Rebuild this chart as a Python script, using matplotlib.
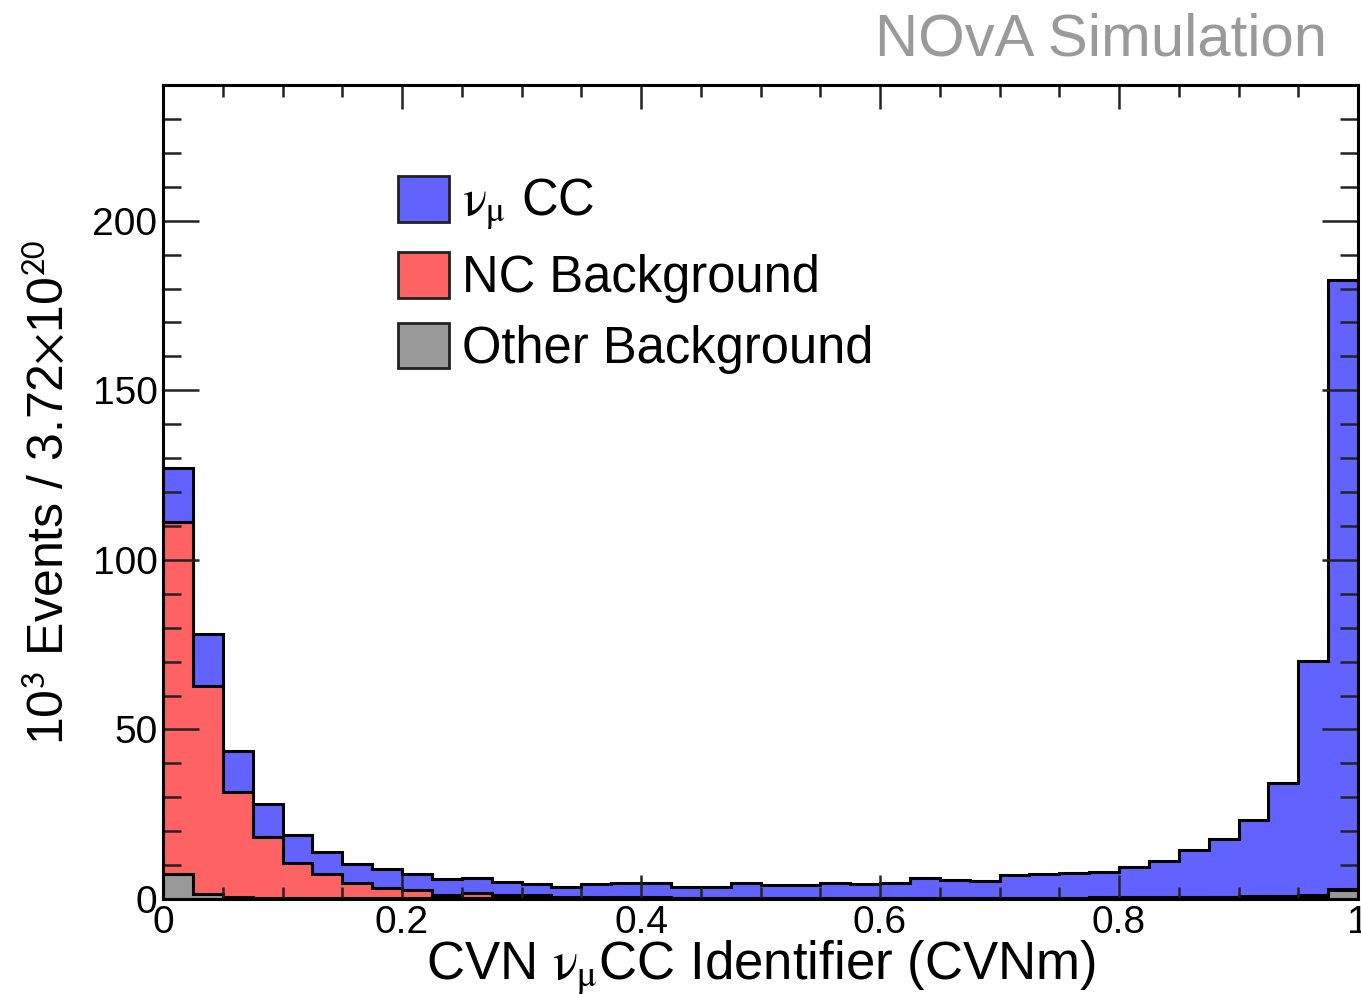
import numpy as np
import matplotlib
matplotlib.use("Agg")
import matplotlib.pyplot as plt
from matplotlib.patches import Patch
from matplotlib.ticker import MultipleLocator, FormatStrFormatter

plt.rcParams['font.family'] = ['Liberation Sans', 'DejaVu Sans']
plt.rcParams['mathtext.fontset'] = 'stix'

# CVN numu CC score, 40 bins between 0 and 1 (10^3 events per bin)
edges = np.linspace(0, 1, 41)

other_bkg = [7.3, 1.4, 0.6, 0.4, 0.3, 0.3, 0.2, 0.2, 0.2, 0.2,
             0.2, 0.2, 0.2, 0.2, 0.2, 0.2, 0.2, 0.2, 0.2, 0.2,
             0.2, 0.2, 0.2, 0.2, 0.2, 0.2, 0.2, 0.2, 0.2, 0.2,
             0.2, 0.3, 0.3, 0.3, 0.4, 0.5, 0.6, 0.8, 1.0, 2.8]
nc_bkg = [104.0, 61.5, 31.0, 17.9, 10.4, 7.0, 4.6, 3.1, 2.4, 1.0,
          1.7, 1.0, 1.0, 0.4, 0.3, 0.3, 0.3, 0.2, 0.2, 0.2,
          0.2, 0.2, 0.2, 0.2, 0.2, 0.2, 0.2, 0.2, 0.2, 0.2,
          0.2, 0.2, 0.2, 0.2, 0.2, 0.2, 0.2, 0.2, 0.3, 0.1]
numu_cc = [15.9, 15.3, 12.0, 9.8, 8.1, 6.5, 5.6, 5.6, 4.8, 4.8,
           4.4, 3.9, 3.3, 3.0, 3.8, 4.2, 4.2, 3.2, 3.2, 4.2,
           3.8, 3.6, 4.3, 3.9, 4.2, 5.8, 5.1, 4.9, 6.6, 6.9,
           7.3, 7.6, 9.0, 10.8, 13.8, 16.9, 22.5, 33.1, 68.9, 179.7]

labels = [r'$\mathrm{\nu_{\mu}}$ CC', 'NC Background', 'Other Background']
colors = ['#6262ff', '#ff6262', '#999999']

other_bkg = np.array(other_bkg)
nc_bkg = np.array(nc_bkg)
numu_cc = np.array(numu_cc)
stacks = [other_bkg + nc_bkg + numu_cc, other_bkg + nc_bkg, other_bkg]

fig = plt.figure(figsize=(13.61, 9.94), dpi=100)
ax = fig.add_axes([163/1361, 1 - 899/994, 1195/1361, 814/994])

for vals, col in zip(stacks, colors):
    ax.stairs(vals, edges, fill=True, facecolor=col, edgecolor='black',
              linewidth=2.2, baseline=0)

ax.set_xlim(0, 1)
ax.set_ylim(0, 240)

ax.xaxis.set_major_locator(MultipleLocator(0.2))
ax.xaxis.set_minor_locator(MultipleLocator(0.05))
ax.yaxis.set_major_locator(MultipleLocator(50))
ax.yaxis.set_minor_locator(MultipleLocator(10))
ax.xaxis.set_major_formatter(FormatStrFormatter('%g'))

ax.tick_params(which='both', direction='in', top=True, right=True,
               width=1.8, labelsize=28, color='#222222')
ax.tick_params(axis='y', which='major', length=26, pad=4)
ax.tick_params(axis='y', which='minor', length=13)
ax.tick_params(axis='x', which='major', length=17, pad=4)
ax.tick_params(axis='x', which='minor', length=8.6)
for s in ax.spines.values():
    s.set_linewidth(2.2)

ax.set_xlabel(r'CVN $\mathrm{\nu_{\mu}}$CC Identifier (CVNm)', fontsize=38, labelpad=-2)
ax.set_ylabel(r'10$^{\mathsf{3}}$ Events / 3.72$\times$10$^{\mathsf{20}}$',
              fontsize=36, labelpad=14)

handles = [Patch(facecolor=c, edgecolor='#222222', linewidth=2) for c in colors]
ax.legend(handles, labels, loc='upper left', bbox_to_anchor=(0.197, 0.888),
          frameon=False, fontsize=36.5, borderpad=0, borderaxespad=0,
          handlelength=1.0, handleheight=1.0, handletextpad=0.25,
          labelspacing=0.38)

fig.text(1327/1361, 1 - 56/994, 'NOvA Simulation', color='#9a9a9a',
         fontsize=43, ha='right', va='baseline')

fig.savefig('out.png', dpi=100)
